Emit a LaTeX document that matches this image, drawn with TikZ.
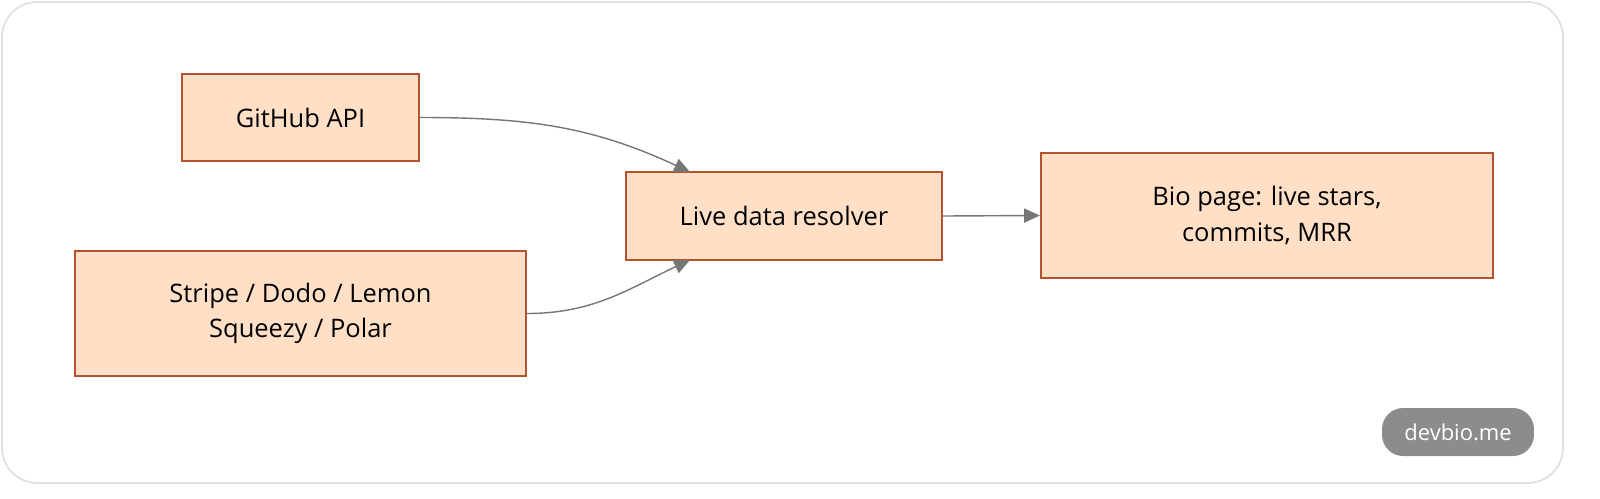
\documentclass[tikz,border=0pt]{standalone}
\usepackage{fontspec}
\setmainfont{Open Sans}
\usetikzlibrary{arrows.meta}
\definecolor{boxfill}{HTML}{FFDFC6}
\definecolor{boxline}{HTML}{B4532E}
\definecolor{linkgray}{HTML}{767676}
\tikzset{
  box/.style={draw=boxline, fill=boxfill, line width=1.3pt, align=center,
    inner sep=0pt, font=\fontsize{14.5pt}{20pt}\selectfont},
  link/.style={draw=linkgray, line width=0.8pt, -{Triangle[length=9pt,width=8pt]}}
}
\begin{document}
\begin{tikzpicture}[x=0.02cm,y=-0.02cm]
    % Frame
    \useasboundingbox (0,0) rectangle (1600,498);
    \draw[draw=black!12, line width=1pt, rounded corners=20pt] (2,2) rectangle (1563,483);

    % Sources
    \node[box, minimum width=4.74cm, minimum height=1.74cm] (github) at (300.5,117.5) {GitHub API};
    \node[box, minimum width=9.02cm, minimum height=2.5cm] (billing) at (300.5,313.5) {Stripe / Dodo / Lemon\\Squeezy / Polar};

    % Resolver and output
    \node[box, minimum width=6.32cm, minimum height=1.76cm] (resolver) at (784,216) {Live data resolver};
    \node[box, minimum width=9.04cm, minimum height=2.5cm] (bio) at (1267,215.5) {Bio page: live stars,\\commits, MRR};

    % Links
    \coordinate (intop) at (690,172);
    \coordinate (inbot) at (690,260);
    \draw[link] (github.east) to[out=0, in=155] (intop);
    \draw[link] (billing.east) to[out=0, in=-155] (inbot);
    \draw[link] (resolver.east) -- (bio.west);

    % Badge
    \node[fill=black!45, text=white, rounded corners=12pt, minimum width=3.04cm,
      minimum height=0.96cm, font=\fontsize{12.5pt}{14pt}\selectfont] (badge) at (1458,432) {devbio.me};
\end{tikzpicture}
\end{document}
